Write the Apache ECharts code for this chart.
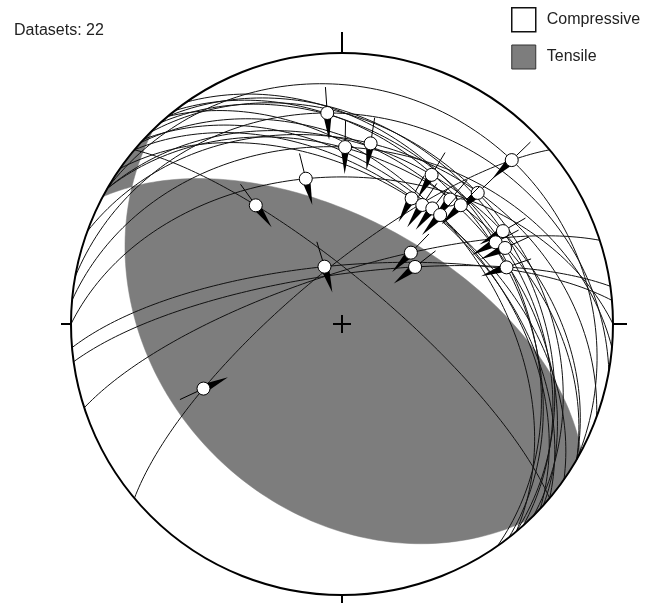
<!DOCTYPE html>
<html><head><meta charset="utf-8">
<script src="https://cdn.jsdelivr.net/npm/echarts@6/dist/echarts.min.js"></script>
<style>html,body{margin:0;padding:0;background:#fff}#c{width:646px;height:603px}</style>
</head><body><div id="c"></div>
<script>
const datasetLabel = 'Datasets: 22';
const legendNames = ['Compressive', 'Tensile'];
// Fault planes: strike (deg) of one end of each great circle
const faultStrikes = [280, 275, 290, 270, 310, 300, 300, 305, 310, 312, 315, 313, 320, 320, 325, 318, 322, 252, 262, 265, 230, 300];
// Slip lineations on those planes: trend (deg), plunge (deg)
const lineTrends  = [356, 1, 9, 346, 324, 46, 31, 29, 34, 41, 46, 38, 42, 60, 62, 65, 71, 44, 52, 343, 245, 45];
const linePlunges = [23, 35, 33, 44, 45, 14, 36, 46, 46, 39, 31, 45, 45, 32, 36, 34, 36, 60, 62, 72, 43, 38];
// Tensile dihedron boundary planes: dip direction (deg), dip (deg)
const tensileDipDirs = [28, 226];
const tensileDips = [58, 33];

const d2r = Math.PI / 180;
function vec(trend, plunge) {
  const t = trend * d2r, p = plunge * d2r;
  return [Math.cos(p) * Math.sin(t), Math.cos(p) * Math.cos(t), -Math.sin(p)];
}
function dot(a, b) { return a[0]*b[0] + a[1]*b[1] + a[2]*b[2]; }
function cross(a, b) { return [a[1]*b[2]-a[2]*b[1], a[2]*b[0]-a[0]*b[2], a[0]*b[1]-a[1]*b[0]]; }
function norm(a) { const l = Math.hypot(a[0], a[1], a[2]); return [a[0]/l, a[1]/l, a[2]/l]; }
// lower-hemisphere equal-area projection, primitive radius = 1
function proj(v) {
  if (v[2] > 1e-9) v = [-v[0], -v[1], -v[2]];
  const pl = Math.asin(Math.max(0, Math.min(1, -v[2])));
  const h = Math.hypot(v[0], v[1]);
  if (h < 1e-12) return [0, 0];
  const R = Math.SQRT2 * Math.sin((Math.PI / 2 - pl) / 2);
  return [R * v[0] / h, R * v[1] / h];
}
function gcPoint(S, D, t) {
  const c = Math.cos(t), s = Math.max(0, Math.sin(t));
  return [c*S[0] + s*D[0], c*S[1] + s*D[1], c*S[2] + s*D[2]];
}
function arc(S, D, t0, t1, n) {
  const out = [];
  for (let i = 0; i <= n; i++) out.push(proj(gcPoint(S, D, i === n ? t1 : t0 + (t1 - t0) * (i / n))));
  return out;
}
function rim(a0, a1, n) {
  const out = [];
  for (let i = 0; i <= n; i++) { const a = (a0 + (a1 - a0) * i / n) * d2r; out.push([Math.sin(a), Math.cos(a)]); }
  return out;
}

// fault great circles
const faultLines = faultStrikes.map((s, i) => {
  const S = vec(s, 0), L = vec(lineTrends[i], linePlunges[i]);
  const k = dot(L, S);
  const D = norm([L[0]-k*S[0], L[1]-k*S[1], L[2]-k*S[2]]);
  return arc(S, D, 0, Math.PI, 120);
});
const lineationPts = lineTrends.map((t, i) => proj(vec(t, linePlunges[i])));

// tensile region (lune between the two boundary planes)
const SA = vec(tensileDipDirs[0] - 90, 0), DA = vec(tensileDipDirs[0], tensileDips[0]);
const SB = vec(tensileDipDirs[1] - 90, 0), DB = vec(tensileDipDirs[1], tensileDips[1]);
let X = norm(cross(cross(SA, DA), cross(SB, DB)));
if (X[2] > 0) X = [-X[0], -X[1], -X[2]];
const tA = Math.atan2(dot(X, DA), dot(X, SA));
const tB = Math.atan2(dot(X, DB), dot(X, SB));
const azA0 = tensileDipDirs[0] - 90, azA1 = tensileDipDirs[0] + 90;
const azB0 = tensileDipDirs[1] - 90, azB1 = tensileDipDirs[1] + 90;
const polyMain = [].concat(arc(SA, DA, Math.PI, tA, 100), arc(SB, DB, tB, 0, 100), rim(azB0, azA1, 30));
const polySliver = [].concat(arc(SA, DA, tA, 0, 40), rim(azA0 + 360, azB1, 20), arc(SB, DB, Math.PI, tB, 40));
const tensilePolys = [polyMain, polySliver];

const series = [];
series.push({
  name: legendNames[0], type: 'custom', coordinateSystem: 'cartesian2d', z: 1, silent: true,
  itemStyle: { color: '#fff', borderColor: '#000' },
  data: [[0, 0]],
  renderItem: (p, api) => {
    const c = api.coord([0, 0]); const r = api.size([1, 0])[0];
    return { type: 'circle', shape: { cx: c[0], cy: c[1], r: r }, style: { fill: '#fff' } };
  }
});
series.push({
  name: legendNames[1], type: 'custom', coordinateSystem: 'cartesian2d', z: 2, silent: true,
  itemStyle: { color: '#7d7d7d' },
  data: tensilePolys.map(() => [0, 0]),
  renderItem: (p, api) => ({
    type: 'polygon', shape: { points: tensilePolys[p.dataIndex].map(q => api.coord(q)) },
    style: { fill: '#7d7d7d', stroke: '#7d7d7d', lineWidth: 0.5 }
  })
});
faultLines.forEach((pts, i) => series.push({
  name: 'fault' + (i + 1), type: 'line', z: 3, silent: true, showSymbol: false, symbol: 'none',
  data: pts, lineStyle: { color: '#111', width: 1 }
}));
series.push({
  name: 'frame', type: 'custom', coordinateSystem: 'cartesian2d', z: 4, silent: true,
  data: [[0, 0]],
  renderItem: (p, api) => {
    const c = api.coord([0, 0]); const r = api.size([1, 0])[0];
    const st = { stroke: '#000', lineWidth: 2 };
    return { type: 'group', children: [
      { type: 'circle', shape: { cx: c[0], cy: c[1], r: r }, style: { fill: 'none', stroke: '#000', lineWidth: 2 } },
      { type: 'line', shape: { x1: c[0], y1: c[1] - r, x2: c[0], y2: c[1] - r - 21 }, style: st },
      { type: 'line', shape: { x1: c[0], y1: c[1] + r, x2: c[0], y2: c[1] + r + 12 }, style: st },
      { type: 'line', shape: { x1: c[0] - r, y1: c[1], x2: c[0] - r - 10, y2: c[1] }, style: st },
      { type: 'line', shape: { x1: c[0] + r, y1: c[1], x2: c[0] + r + 14, y2: c[1] }, style: st },
      { type: 'line', shape: { x1: c[0] - 9, y1: c[1], x2: c[0] + 9, y2: c[1] }, style: st },
      { type: 'line', shape: { x1: c[0], y1: c[1] - 9, x2: c[0], y2: c[1] + 9 }, style: st }
    ] };
  }
});
series.push({
  name: 'lineations', type: 'custom', coordinateSystem: 'cartesian2d', z: 5, silent: true,
  data: lineationPts,
  renderItem: (params, api) => {
    const p = api.coord([api.value(0), api.value(1)]);
    const c = api.coord([0, 0]);
    let dx = c[0] - p[0], dy = c[1] - p[1]; const l = Math.hypot(dx, dy) || 1; dx /= l; dy /= l;
    const px = -dy, py = dx;
    return { type: 'group', children: [
      { type: 'line', shape: { x1: p[0], y1: p[1], x2: p[0] - dx * 26, y2: p[1] - dy * 26 }, style: { stroke: '#000', lineWidth: 1 } },
      { type: 'polygon', shape: { points: [[p[0] + px * 4.5, p[1] + py * 4.5], [p[0] + dx * 27, p[1] + dy * 27], [p[0] - px * 4.5, p[1] - py * 4.5]] }, style: { fill: '#000' } },
      { type: 'circle', shape: { cx: p[0], cy: p[1], r: 6.5 }, style: { fill: '#fff', stroke: '#000', lineWidth: 1 } }
    ] };
  }
});

const chart = echarts.init(document.getElementById('c'), null, { renderer: 'canvas' });
chart.setOption({
  animation: false,
  backgroundColor: '#fff',
  title: { text: datasetLabel, left: 14, top: 23, padding: 0,
    textStyle: { fontSize: 16, fontWeight: 'normal', color: '#222', fontFamily: 'Liberation Sans, Arial, sans-serif' } },
  legend: {
    orient: 'vertical', left: 511, top: 7, padding: 0, itemWidth: 24, itemHeight: 24, itemGap: 12,
    selectedMode: false,
    textStyle: { fontSize: 16, color: '#222', padding: [0, 0, 0, 6], fontFamily: 'Liberation Sans, Arial, sans-serif' },
    data: [
      { name: legendNames[0], icon: 'rect', itemStyle: { color: '#fff', borderColor: '#111', borderWidth: 1.5 } },
      { name: legendNames[1], icon: 'rect', itemStyle: { color: '#7d7d7d', borderColor: '#333', borderWidth: 1 } }
    ]
  },
  grid: { left: 71, top: 53, width: 542, height: 542 },
  xAxis: { type: 'value', min: -1, max: 1, show: false },
  yAxis: { type: 'value', min: -1, max: 1, show: false },
  series: series
});
</script></body></html>
